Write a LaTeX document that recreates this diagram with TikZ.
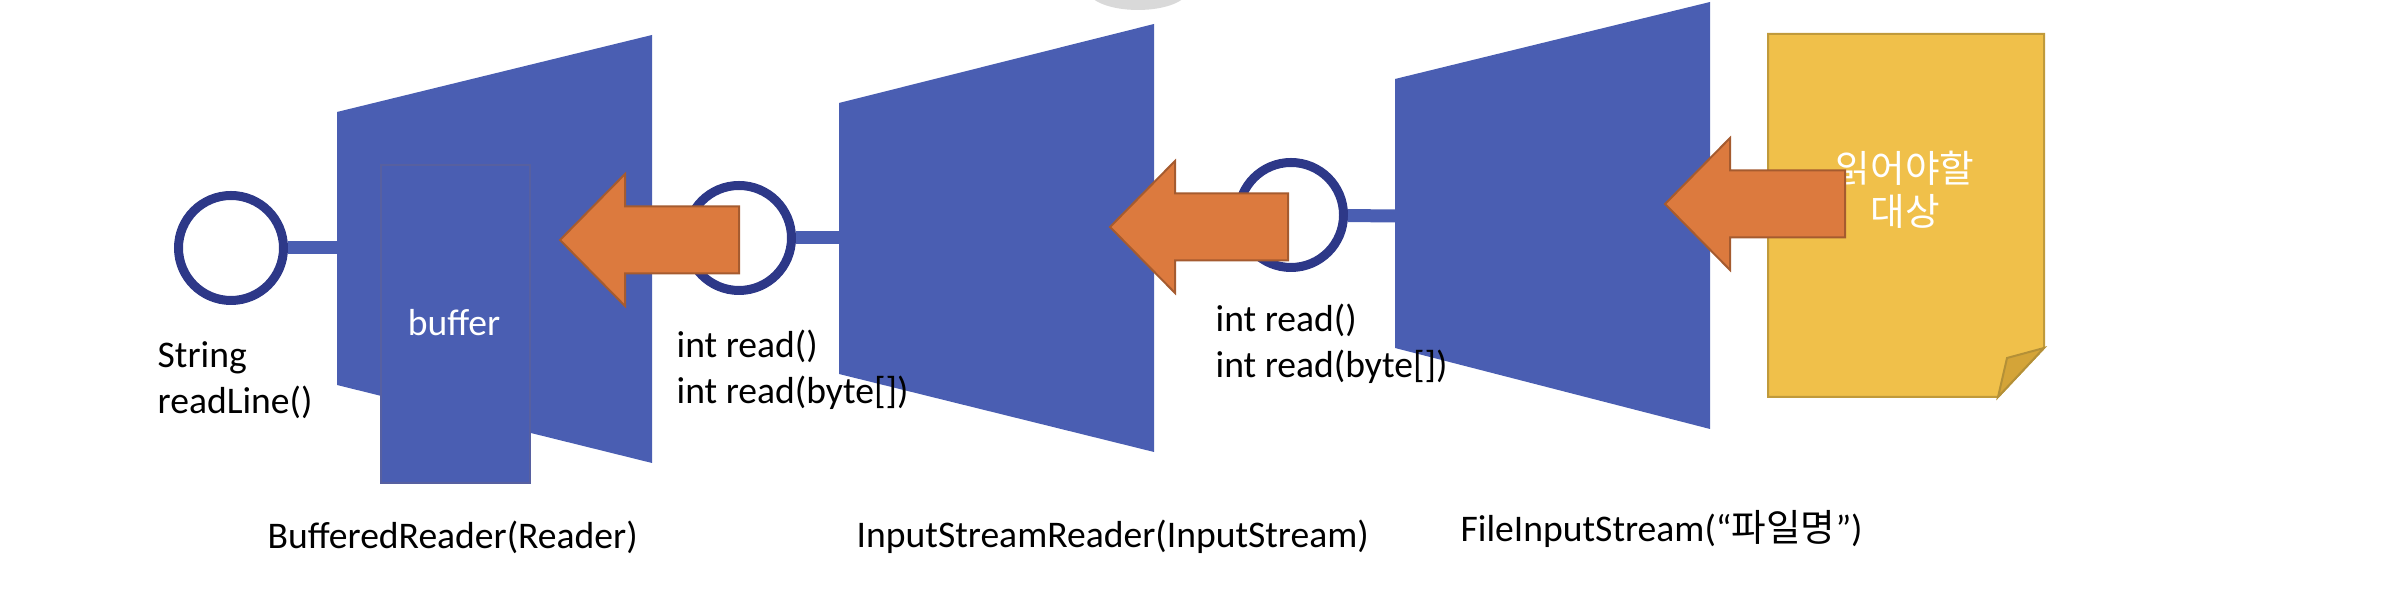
\documentclass[tikz,border=0pt]{standalone}
\usepackage{fontspec}
\setmainfont{Carlito}
\newfontfamily\kr{Noto Sans CJK KR}
\usepackage{xcolor}
\usetikzlibrary{positioning}

\definecolor{modra}{RGB}{74,94,178}
\definecolor{tmava}{RGB}{45,56,136}
\definecolor{oranz}{RGB}{220,122,62}
\definecolor{zluta}{RGB}{240,192,74}
\definecolor{ohyb}{RGB}{212,164,56}

\begin{document}
\begin{tikzpicture}[
  kruh/.style={circle, draw=tmava, line width=.9mm, minimum size=10.5mm, inner sep=0pt},
  spoj/.style={line width=1.3mm, color=modra},
  blok/.style={fill=modra},
  sipka/.style={fill=oranz, draw=oranz!75!black, line width=.2mm},
  popis/.style={inner sep=0pt, align=left, anchor=base west, font=\fontsize{10.7}{13.1}\selectfont},
  bily/.style={inner sep=0pt, align=center, text=white, font=\fontsize{10.7}{12.2}\selectfont}
]
\useasboundingbox (0,0) rectangle (23.88,6.07);

% zbytek shora
\fill[gray!30] (11.38,6.17) ellipse (0.5 and 0.2);

% bloky
\fill[blok] (3.37,4.95) -- (6.52,5.72) -- (6.52,1.44) -- (3.37,2.22) -- cycle;
\fill[blok] (8.39,5.04) -- (11.54,5.83) -- (11.54,1.55) -- (8.39,2.33) -- cycle;
\fill[blok] (13.95,5.28) -- (17.10,6.05) -- (17.10,1.78) -- (13.95,2.59) -- cycle;
\filldraw[fill=modra, draw=tmava!80, line width=.2mm] (3.81,4.42) rectangle (5.30,1.24);
\node[bily] (buf) at (4.54,2.84) {buffer};

\coordinate (t1) at (3.37,3.59);
\coordinate (t2) at (8.39,3.69);
\coordinate (t3) at (13.95,3.91);

% kruhy
\node[kruh] (n1) at (2.31,3.59) {};
\node[kruh] (n2) at (7.39,3.69) {};
\node[kruh] (n3) at (12.91,3.92) {};
\draw[spoj] (n1) -- (t1);
\draw[spoj] (n2) -- (t2);
\draw[spoj] (n3) -- (t3);

% soubor
\filldraw[fill=zluta, draw=zluta!80!black, line width=.2mm]
  (17.68,5.73) -- (20.44,5.73) -- (20.44,2.59) -- (19.98,2.10) -- (17.68,2.10) -- cycle;
\filldraw[fill=ohyb, draw=zluta!75!black, line width=.2mm]
  (19.98,2.10) -- (20.44,2.59) -- (20.07,2.49) -- cycle;
\node[bily] (cil) at (19.05,4.175) {\kr 읽어야할\\\kr 대상};

% popisky
\node[popis] (str) at (1.57,1.93) {String\\readLine()};
\node[popis] (rd1) at (6.76,2.03) {int read()\\int read(byte[])};
\node[popis] (rd2) at (12.15,2.29) {int read()\\int read(byte[])};
\node[popis] (br) at (2.67,0.58) {BufferedReader(Reader)};
\node[popis] (isr) at (8.56,0.59) {InputStreamReader(InputStream)};
\node[popis] (fis) at (14.60,0.65) {FileInputStream(“{\kr 파일명}”)};

% sipky
\foreach \x/\y/\e in {5.60/3.67/7.39, 11.10/3.80/12.88, 16.65/4.03/18.45}
  \filldraw[sipka] (\x,\y) -- ++(0.65,0.66) -- ++(0,-0.325) -- (\e,{\y+0.335})
    -- (\e,{\y-0.335}) -- ({\x+0.65},{\y-0.335}) -- ++(0,-0.325) -- cycle;

\end{tikzpicture}
\end{document}
